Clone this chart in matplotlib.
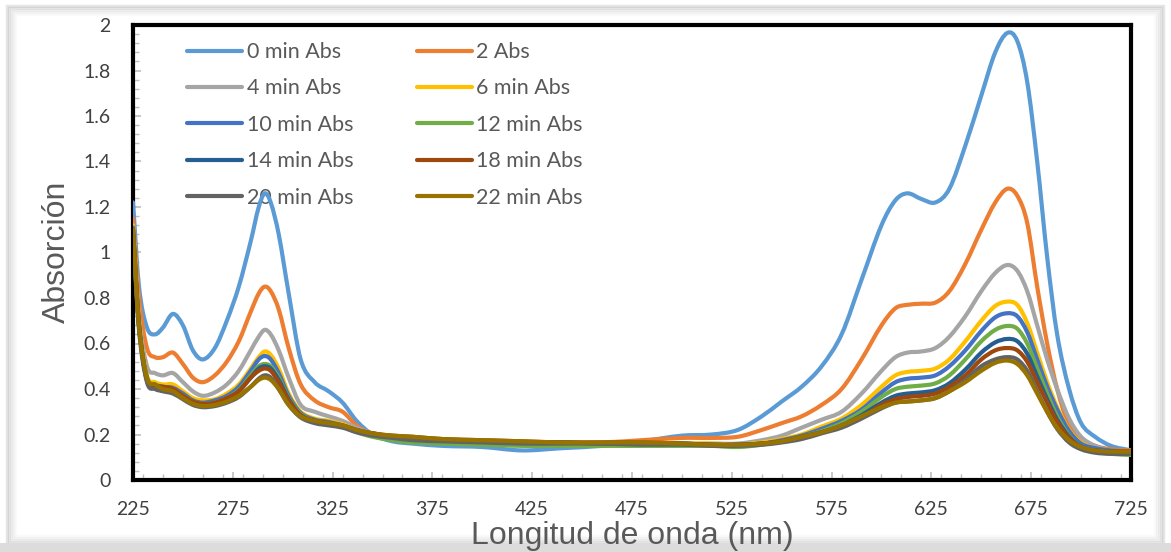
import matplotlib
matplotlib.use("Agg")
import matplotlib.pyplot as plt
from matplotlib.ticker import MultipleLocator, FuncFormatter
from matplotlib.patches import Rectangle, PathPatch
from matplotlib.path import Path
from matplotlib.lines import Line2D

wavelength = [225, 228, 232, 236, 240, 245, 250, 255, 260, 266,
              272, 278, 284, 288, 291, 294, 298, 303, 309, 316,
              323, 330, 337, 345, 355, 365, 380, 400, 420, 440,
              460, 480, 500, 515, 528, 540, 550, 560, 570, 580,
              590, 600, 607, 613, 620, 627, 634, 642, 650, 657,
              663, 668, 673, 678, 683, 688, 694, 700, 707, 715,
              725]

abs_0 = [1.22, 0.85, 0.67, 0.64, 0.67, 0.73, 0.68, 0.57, 0.53, 0.58,
         0.70, 0.85, 1.05, 1.20, 1.26, 1.22, 1.08, 0.82, 0.53, 0.43,
         0.39, 0.34, 0.26, 0.20, 0.17, 0.16, 0.15, 0.145, 0.13, 0.14,
         0.15, 0.17, 0.195, 0.20, 0.22, 0.28, 0.345, 0.41, 0.50, 0.64,
         0.88, 1.12, 1.23, 1.26, 1.235, 1.22, 1.28, 1.47, 1.69, 1.88,
         1.965, 1.93, 1.75, 1.40, 0.98, 0.64, 0.40, 0.25, 0.19, 0.15,
         0.13]
abs_2 = [1.15, 0.80, 0.58, 0.54, 0.54, 0.56, 0.51, 0.45, 0.43, 0.46,
         0.52, 0.61, 0.74, 0.82, 0.85, 0.83, 0.75, 0.58, 0.42, 0.35,
         0.32, 0.30, 0.24, 0.20, 0.19, 0.18, 0.175, 0.17, 0.165, 0.165,
         0.165, 0.175, 0.185, 0.185, 0.19, 0.22, 0.25, 0.28, 0.33, 0.40,
         0.53, 0.68, 0.755, 0.77, 0.775, 0.78, 0.83, 0.95, 1.10, 1.22,
         1.28, 1.25, 1.13, 0.85, 0.60, 0.40, 0.24, 0.18, 0.15, 0.135,
         0.13]
abs_4 = [1.12, 0.72, 0.50, 0.47, 0.46, 0.47, 0.43, 0.39, 0.37, 0.385,
         0.42, 0.48, 0.57, 0.63, 0.66, 0.64, 0.57, 0.45, 0.33, 0.30,
         0.28, 0.26, 0.23, 0.205, 0.19, 0.18, 0.175, 0.165, 0.16, 0.16,
         0.16, 0.16, 0.16, 0.16, 0.16, 0.175, 0.195, 0.23, 0.265, 0.30,
         0.38, 0.48, 0.54, 0.56, 0.565, 0.58, 0.63, 0.72, 0.83, 0.91,
         0.945, 0.92, 0.83, 0.68, 0.53, 0.40, 0.27, 0.19, 0.15, 0.13,
         0.125]
abs_6 = [1.12, 0.70, 0.46, 0.43, 0.42, 0.42, 0.39, 0.36, 0.35, 0.355,
         0.38, 0.42, 0.49, 0.54, 0.565, 0.55, 0.49, 0.38, 0.30, 0.27,
         0.26, 0.245, 0.22, 0.205, 0.19, 0.18, 0.175, 0.17, 0.165, 0.165,
         0.16, 0.16, 0.16, 0.16, 0.155, 0.165, 0.18, 0.20, 0.235, 0.27,
         0.33, 0.41, 0.46, 0.475, 0.48, 0.49, 0.53, 0.61, 0.70, 0.765,
         0.784, 0.77, 0.69, 0.56, 0.43, 0.32, 0.22, 0.165, 0.14, 0.13,
         0.125]
abs_10 = [1.11, 0.69, 0.45, 0.42, 0.41, 0.405, 0.38, 0.35, 0.34, 0.35,
          0.37, 0.41, 0.48, 0.53, 0.545, 0.53, 0.47, 0.37, 0.295, 0.265,
          0.255, 0.24, 0.22, 0.205, 0.19, 0.18, 0.175, 0.17, 0.165, 0.165,
          0.16, 0.16, 0.16, 0.155, 0.155, 0.16, 0.175, 0.195, 0.225, 0.26,
          0.31, 0.385, 0.43, 0.445, 0.45, 0.46, 0.50, 0.57, 0.655, 0.715,
          0.733, 0.72, 0.65, 0.53, 0.41, 0.31, 0.215, 0.16, 0.14, 0.13,
          0.125]
abs_12 = [1.10, 0.68, 0.44, 0.415, 0.40, 0.395, 0.37, 0.345, 0.335, 0.34,
          0.36, 0.395, 0.46, 0.50, 0.51, 0.50, 0.45, 0.36, 0.29, 0.26,
          0.25, 0.235, 0.21, 0.19, 0.175, 0.165, 0.16, 0.155, 0.15, 0.15,
          0.15, 0.15, 0.15, 0.15, 0.145, 0.155, 0.17, 0.19, 0.215, 0.25,
          0.30, 0.365, 0.40, 0.41, 0.415, 0.425, 0.46, 0.53, 0.61, 0.66,
          0.677, 0.665, 0.60, 0.49, 0.38, 0.28, 0.195, 0.145, 0.125, 0.115,
          0.11]
abs_14 = [1.10, 0.68, 0.44, 0.41, 0.40, 0.39, 0.365, 0.34, 0.33, 0.335,
          0.355, 0.39, 0.45, 0.49, 0.50, 0.49, 0.44, 0.355, 0.285, 0.26,
          0.25, 0.235, 0.215, 0.20, 0.19, 0.18, 0.175, 0.17, 0.165, 0.165,
          0.16, 0.16, 0.16, 0.155, 0.155, 0.16, 0.17, 0.19, 0.21, 0.24,
          0.285, 0.34, 0.37, 0.38, 0.385, 0.395, 0.425, 0.485, 0.56, 0.605,
          0.62, 0.61, 0.555, 0.455, 0.355, 0.265, 0.19, 0.145, 0.13, 0.125,
          0.12]
abs_18 = [1.10, 0.68, 0.44, 0.415, 0.41, 0.40, 0.37, 0.345, 0.335, 0.34,
          0.36, 0.39, 0.45, 0.48, 0.49, 0.48, 0.43, 0.35, 0.285, 0.26,
          0.25, 0.24, 0.22, 0.205, 0.195, 0.19, 0.18, 0.175, 0.17, 0.165,
          0.165, 0.165, 0.16, 0.155, 0.155, 0.16, 0.17, 0.19, 0.21, 0.235,
          0.275, 0.33, 0.355, 0.365, 0.37, 0.38, 0.41, 0.46, 0.53, 0.57,
          0.58, 0.57, 0.52, 0.43, 0.34, 0.255, 0.185, 0.145, 0.13, 0.125,
          0.125]
abs_20 = [1.08, 0.66, 0.43, 0.40, 0.39, 0.38, 0.355, 0.33, 0.32, 0.325,
          0.34, 0.365, 0.41, 0.445, 0.46, 0.45, 0.40, 0.33, 0.275, 0.25,
          0.24, 0.23, 0.21, 0.195, 0.185, 0.175, 0.17, 0.165, 0.16, 0.16,
          0.16, 0.155, 0.155, 0.15, 0.15, 0.155, 0.165, 0.18, 0.205, 0.23,
          0.27, 0.315, 0.34, 0.345, 0.35, 0.36, 0.39, 0.44, 0.50, 0.53,
          0.54, 0.53, 0.48, 0.39, 0.30, 0.225, 0.165, 0.135, 0.12, 0.115,
          0.115]
abs_22 = [1.10, 0.68, 0.45, 0.42, 0.40, 0.39, 0.36, 0.335, 0.325, 0.33,
          0.345, 0.37, 0.41, 0.44, 0.45, 0.44, 0.40, 0.33, 0.28, 0.26,
          0.25, 0.24, 0.22, 0.205, 0.195, 0.19, 0.18, 0.175, 0.17, 0.165,
          0.165, 0.165, 0.16, 0.155, 0.155, 0.16, 0.17, 0.19, 0.21, 0.24,
          0.28, 0.32, 0.34, 0.345, 0.35, 0.36, 0.39, 0.43, 0.48, 0.515,
          0.525, 0.51, 0.46, 0.38, 0.30, 0.23, 0.175, 0.145, 0.13, 0.125,
          0.125]

series_labels = ["0 min Abs", "2 Abs", "4 min Abs", "6 min Abs", "10 min Abs",
                 "12 min Abs", "14 min Abs", "18 min Abs", "20 min Abs", "22 min Abs"]
series_values = [abs_0, abs_2, abs_4, abs_6, abs_10, abs_12, abs_14, abs_18, abs_20, abs_22]
series_colors = ["#5B9BD5", "#ED7D31", "#A5A5A5", "#FFC000", "#4472C4",
                 "#70AD47", "#255E91", "#9E480E", "#636363", "#997300"]

x_ticks = [225, 275, 325, 375, 425, 475, 525, 575, 625, 675, 725]


def smooth_path(xs, ys):
    """Excel-style smoothed line: cubic Hermite segments through the data points."""
    n = len(xs)
    m = []
    for i in range(n):
        if i == 0:
            m.append((ys[1] - ys[0]) / (xs[1] - xs[0]))
        elif i == n - 1:
            m.append((ys[-1] - ys[-2]) / (xs[-1] - xs[-2]))
        else:
            m.append((ys[i + 1] - ys[i - 1]) / (xs[i + 1] - xs[i - 1]))
    verts = [(xs[0], ys[0])]
    codes = [Path.MOVETO]
    for i in range(n - 1):
        h = xs[i + 1] - xs[i]
        verts += [(xs[i] + h / 3, ys[i] + m[i] * h / 3),
                  (xs[i + 1] - h / 3, ys[i + 1] - m[i + 1] * h / 3),
                  (xs[i + 1], ys[i + 1])]
        codes += [Path.CURVE4] * 3
    return Path(verts, codes)


LW = 3.0

fig = plt.figure(figsize=(11.71, 5.52), dpi=100)
fig.patch.set_facecolor("white")

# outer frame with soft shadow
for i, a in enumerate([0.10, 0.07, 0.05, 0.035, 0.02]):
    fig.add_artist(Rectangle((7 / 1171 + i * 0.0017, 8 / 552 + i * 0.0036),
                             (1156 / 1171) - 2 * i * 0.0017, (538 / 552) - 2 * i * 0.0036,
                             transform=fig.transFigure, fill=False,
                             edgecolor="black", alpha=a, lw=2.5, zorder=0))
fig.add_artist(Rectangle((0, 0), 1, 9 / 552, transform=fig.transFigure,
                         facecolor="#DCDCDC", edgecolor="none", zorder=0))

ax = fig.add_axes([133 / 1171, 1 - 480 / 552, 998 / 1171, 455 / 552])

handles = []
for lab, vals, col in zip(series_labels, series_values, series_colors):
    patch = PathPatch(smooth_path(wavelength, vals), facecolor="none", edgecolor=col,
                      lw=LW, joinstyle="round", capstyle="round", zorder=3)
    ax.add_patch(patch)
    handles.append(Line2D([], [], color=col, lw=LW, solid_capstyle="round"))

ax.set_xlim(225, 725)
ax.set_ylim(0, 2)
ax.set_xticks(x_ticks)
ax.xaxis.set_minor_locator(MultipleLocator(10))
ax.yaxis.set_major_locator(MultipleLocator(0.2))
ax.yaxis.set_minor_locator(MultipleLocator(0.04))
ax.yaxis.set_major_formatter(FuncFormatter(lambda v, p: f"{v:g}"))

for s in ax.spines.values():
    s.set_color("black")
    s.set_linewidth(3)

ax.tick_params(axis="both", which="major", direction="in", length=6, width=1.2,
               color="#BFBFBF", labelcolor="#404040", labelsize=14)
ax.tick_params(axis="both", which="minor", direction="in", length=4, width=1.0,
               color="#BFBFBF")
ax.tick_params(axis="x", which="major", pad=15)
ax.tick_params(axis="y", which="major", pad=16)
for lbl in ax.get_xticklabels() + ax.get_yticklabels():
    lbl.set_fontfamily("Lato")

fig.text(632 / 1171, 1 - 536 / 552, "Longitud de onda (nm)", ha="center", va="center",
         fontsize=23, color="#595959", family="Liberation Sans")
fig.text(57 / 1171, 1 - 252 / 552, "Absorción", ha="center", va="center", rotation=90,
         fontsize=23, color="#595959", family="Liberation Sans")

order = [0, 2, 4, 6, 8, 1, 3, 5, 7, 9]
leg = ax.legend([handles[i] for i in order], [series_labels[i] for i in order],
                ncol=2, loc="upper left", bbox_to_anchor=(0.035, 1.005),
                frameon=False, handlelength=2.55, handletextpad=0.2,
                columnspacing=2.95, labelspacing=0.76,
                prop={"family": "Lato", "size": 15.5})
for t in leg.get_texts():
    t.set_color("#595959")
leg.set_zorder(1)

fig.savefig("out.png", dpi=100, facecolor="white")
